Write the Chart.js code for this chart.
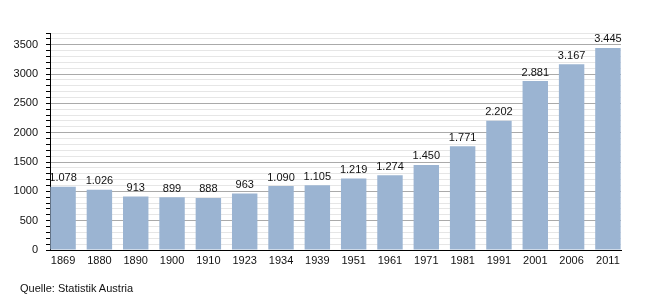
<!DOCTYPE html>
<html>
<head>
<meta charset="utf-8">
<script src="https://cdn.jsdelivr.net/npm/chart.js@4"></script>
<style>
body { margin: 0; background: #fff; }
#wrap { position: relative; width: 650px; height: 300px; }
#quelle { position: absolute; left: 20px; top: 282px; font: 11px "Liberation Sans", Arial, sans-serif; color: #111; }
</style>
</head>
<body>
<div id="wrap">
<canvas id="chart" width="650" height="300"></canvas>
<div id="quelle">Quelle: Statistik Austria</div>
</div>
<script>
const years = ['1869', '1880', '1890', '1900', '1910', '1923', '1934', '1939', '1951', '1961', '1971', '1981', '1991', '2001', '2006', '2011'];
const values = [1078, 1026, 913, 899, 888, 963, 1090, 1105, 1219, 1274, 1450, 1771, 2202, 2881, 3167, 3445];

const fmt = v => {
  const s = String(v);
  return s.length > 3 ? s.slice(0, -3) + '.' + s.slice(-3) : s;
};

const font = { family: '"Liberation Sans", Arial, sans-serif', size: 11 };

const valueLabels = {
  id: 'valueLabels',
  afterDatasetsDraw(chart) {
    const ctx = chart.ctx;
    ctx.save();
    ctx.font = '11px "Liberation Sans", Arial, sans-serif';
    ctx.fillStyle = '#111';
    ctx.textAlign = 'center';
    ctx.textBaseline = 'bottom';
    chart.getDatasetMeta(0).data.forEach((bar, i) => {
      ctx.fillText(fmt(values[i]), bar.x, bar.y - 3);
    });
    ctx.restore();
  }
};

new Chart(document.getElementById('chart').getContext('2d'), {
  type: 'bar',
  data: {
    datasets: [{
      data: values.map((v, i) => ({ x: i, y: v })),
      backgroundColor: '#9bb4d2',
      borderWidth: 0,
      categoryPercentage: 1,
      barPercentage: 0.7
    }]
  },
  options: {
    responsive: false,
    animation: false,
    layout: { padding: { top: 33, right: 29, bottom: 30, left: 0 } },
    plugins: {
      legend: { display: false },
      tooltip: { enabled: false }
    },
    scales: {
      x: {
        type: 'linear',
        offset: false,
        min: -0.36,
        max: 15.36,
        grid: { display: false, drawTicks: false, offset: false },
        border: { color: '#000', width: 1 },
        afterBuildTicks: scale => {
          scale.ticks = years.map((y, i) => ({ value: i }));
        },
        afterFit: scale => { scale.height = 20; },
        ticks: {
          font: font,
          color: '#111',
          padding: 4,
          maxRotation: 0,
          autoSkip: false,
          callback: v => years[v]
        }
      },
      y: {
        min: 0,
        max: 3700,
        afterFit: scale => { scale.width = 50; },
        border: { color: '#000', width: 1 },
        grid: {
          color: c => c.tick.value % 500 === 0 ? '#aaaaaa' : '#e6e6e6',
          tickColor: '#000',
          tickLength: 4
        },
        ticks: {
          stepSize: 100,
          font: font,
          color: '#111',
          padding: 8,
          autoSkip: false,
          callback: v => v % 500 === 0 ? String(v) : ''
        }
      }
    }
  },
  plugins: [valueLabels]
});
</script>
</body>
</html>
